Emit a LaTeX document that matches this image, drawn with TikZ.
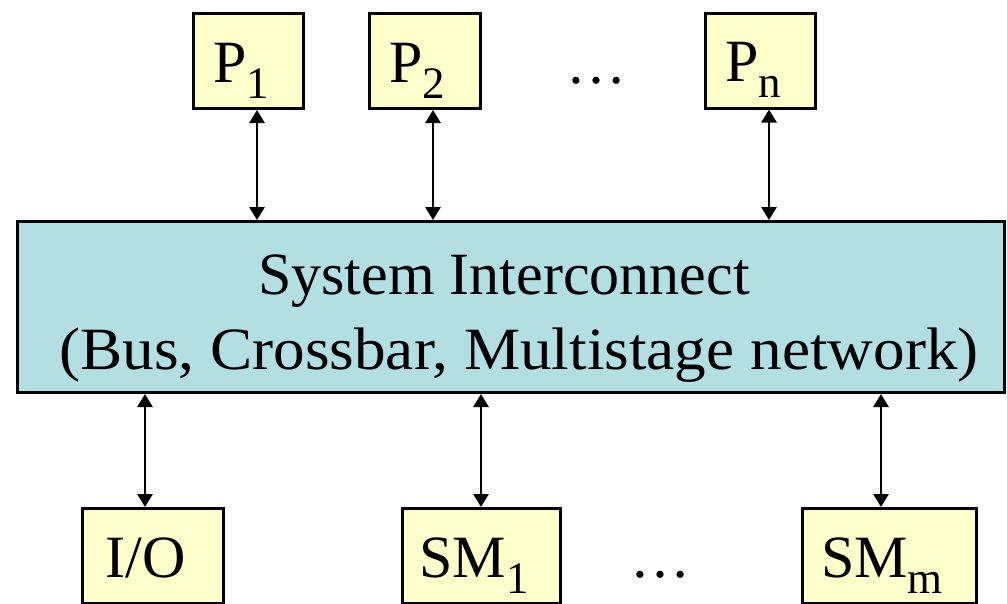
\documentclass[tikz,border=0pt]{standalone}
\usepackage{fontspec}
\usepackage{graphicx}
\setmainfont{Liberation Serif}
\usetikzlibrary{arrows.meta,calc}
\definecolor{boxyellow}{RGB}{255,255,204}
\definecolor{boxcyan}{RGB}{179,223,226}
\newcommand{\sbs}[1]{\raisebox{-16pt}{\fontsize{45}{45}\selectfont #1}}
\newcommand{\tsp}{\kern15pt}
\begin{document}
\begin{tikzpicture}[x=1pt,y=-1pt,
  unitbox/.style={draw=black,line width=3pt,fill=boxyellow,inner sep=0pt,
    minimum width=#1,minimum height=95pt,text height=42pt,text depth=0pt,
    font=\fontsize{60}{72}\selectfont},
  sysbox/.style={draw=black,line width=3pt,fill=boxcyan,inner sep=0pt,
    minimum width=987pt,minimum height=171pt,align=center,
    text height=124pt,text depth=0pt,font=\fontsize{60}{75}\selectfont},
  dotstyle/.style={anchor=base,inner sep=0pt,font=\fontsize{60}{72}\selectfont},
  conn/.style={line width=2.8pt,{Triangle[width=15pt,length=13pt]}-{Triangle[width=15pt,length=13pt]}}]
\useasboundingbox (0,0) rectangle (1007,603);
\clip (0,0) rectangle (1007,603);

\node[unitbox=110pt] (p1) at (248.5,61) {P\sbs{1}\tsp};
\node[unitbox=111pt] (p2) at (425,61) {P\sbs{2}\tsp};
\node[unitbox=110pt] (pn) at (760.5,60.5) {P\sbs{n}\tsp};
\node[dotstyle] (dtop) at (596,83) {…};

\node[sysbox] (sys) at (511,307) {System Interconnect\kern14pt\\\hspace*{16pt}\scalebox{1.054}[1]{(Bus, Crossbar, Multistage network)}};

\node[unitbox=141pt] (io) at (153,556) {I/O\tsp};
\node[unitbox=158pt] (sm1) at (481.5,556) {SM\sbs{1}\tsp};
\node[unitbox=174pt] (smm) at (889.5,556) {SM\sbs{m}\tsp};
\node[dotstyle] (dbot) at (660,577) {…};

\draw[conn] ([xshift=8.5pt]p1.south) -- ([xshift=8.5pt]p1.south |- sys.north);
\draw[conn] ([xshift=8pt]p2.south) -- ([xshift=8pt]p2.south |- sys.north);
\draw[conn] ([xshift=8.5pt]pn.south) -- ([xshift=8.5pt]pn.south |- sys.north);

\draw[conn] ([xshift=-8pt]io.north) -- ([xshift=-8pt]io.north |- sys.south);
\draw[conn] ([xshift=-0.5pt]sm1.north) -- ([xshift=-0.5pt]sm1.north |- sys.south);
\draw[conn] ([xshift=-8.5pt]smm.north) -- ([xshift=-8.5pt]smm.north |- sys.south);
\end{tikzpicture}
\end{document}
